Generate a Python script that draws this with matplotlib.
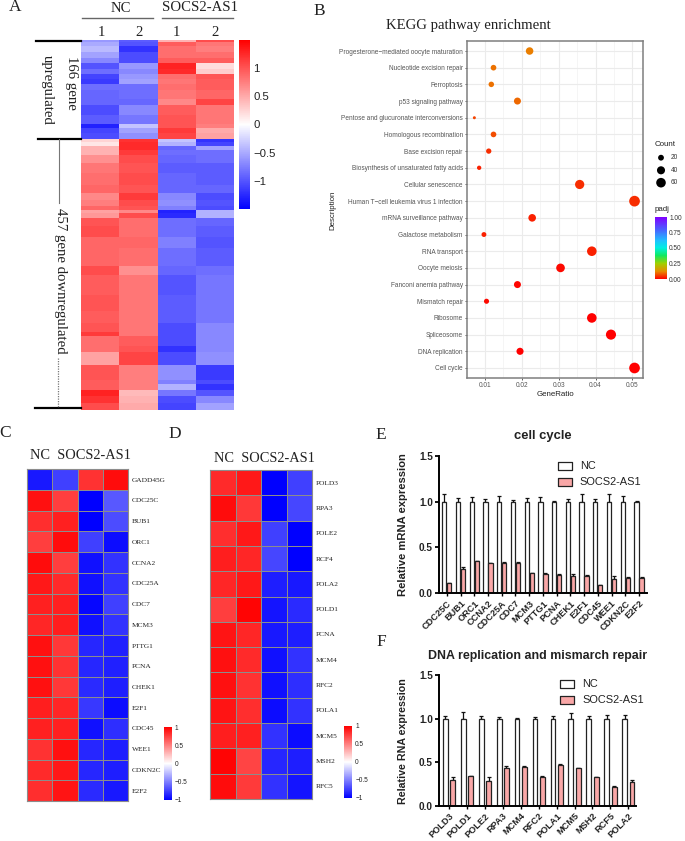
import numpy as np
import matplotlib
matplotlib.use("Agg")
import matplotlib.pyplot as plt
from matplotlib.colors import LinearSegmentedColormap, Normalize
from matplotlib.cm import ScalarMappable

W, H = 685, 841
SERIF = "Liberation Serif"
SANS = "Liberation Sans"

# panel A: heatmap bands, gene counts per band and colour value per sample
up_genes = [4, 6, 11, 9, 8, 10, 10, 8, 8, 11, 14, 11, 17, 15, 7, 8, 9]
up_values = [
    [-0.60, -0.95, 0.45, 1.05], [-0.50, -1.00, 0.95, 0.80], [-0.40, -1.20, 0.85, 0.75],
    [-0.55, -1.05, 0.85, 0.85], [-0.70, -1.05, 0.95, 0.95], [-1.00, -0.60, 1.30, 0.20],
    [-0.85, -0.70, 1.25, 0.30], [-1.10, -0.60, 0.85, 1.00], [-1.15, -0.55, 0.80, 0.95],
    [-0.85, -0.85, 0.85, 0.95], [-0.90, -0.85, 0.80, 0.90], [-0.90, -0.90, 0.70, 1.10],
    [-1.05, -0.70, 0.95, 0.80], [-0.95, -0.80, 1.00, 0.80], [-1.30, -0.35, 1.00, 0.75],
    [-1.10, -0.55, 1.15, 0.50], [-1.05, -0.65, 1.10, 0.55],
]
down_genes = [6, 7, 7, 8, 13, 17, 20, 14, 11, 11, 6, 6, 8, 14, 17, 19, 31, 14,
              34, 28, 20, 14, 8, 17, 10, 22, 24, 7, 10, 11, 11, 12]
down_values = [
    [0.25, 1.20, -0.35, -1.20], [0.15, 1.25, -0.45, -1.10], [0.45, 1.25, -0.90, -0.55],
    [0.45, 1.15, -0.85, -0.85], [0.65, 1.05, -0.90, -0.85], [0.80, 1.00, -0.95, -0.95],
    [0.85, 1.05, -0.90, -0.95], [0.90, 1.00, -0.90, -0.90], [0.70, 1.15, -0.70, -1.05],
    [0.75, 1.05, -0.65, -1.00], [0.90, 1.00, -0.75, -1.05], [0.55, 0.70, -1.30, -0.45],
    [0.60, 1.05, -1.25, -0.45], [1.00, 0.85, -0.85, -0.90], [1.05, 0.85, -0.85, -0.95],
    [0.90, 0.90, -0.75, -1.00], [0.90, 0.85, -0.85, -0.95], [1.05, 0.65, -0.90, -0.85],
    [0.95, 0.80, -1.00, -0.80], [1.00, 0.80, -0.95, -0.80], [0.95, 0.80, -0.95, -0.80],
    [1.00, 0.80, -1.05, -0.70], [1.15, 0.80, -1.05, -0.70], [0.85, 0.95, -1.05, -0.70],
    [0.85, 1.00, -1.20, -0.70], [0.55, 1.10, -1.05, -0.65], [1.00, 0.75, -0.65, -1.15],
    [0.95, 0.75, -0.75, -1.05], [0.95, 0.75, -0.45, -1.20], [1.30, 0.40, -0.80, -1.00],
    [1.20, 0.45, -1.05, -0.70], [1.05, 0.50, -1.10, -0.55],
]

# panel B: KEGG dots
terms = ["Progesterone\u2212mediated oocyte maturation", "Nucleotide excision repair", "Ferroptosis",
         "p53 signaling pathway", "Pentose and glucuronate interconversions", "Homologous recombination",
         "Base excision repair", "Biosynthesis of unsaturated fatty acids", "Cellular senescence",
         "Human T\u2212cell leukemia virus 1 infection", "mRNA surveillance pathway", "Galactose metabolism",
         "RNA transport", "Oocyte meiosis", "Fanconi anemia pathway", "Mismatch repair", "Ribosome",
         "Spliceosome", "DNA replication", "Cell cycle"]
gene_ratio = [0.0221, 0.0123, 0.0117, 0.0188, 0.0071, 0.0123, 0.0110, 0.0084, 0.0357, 0.0506,
              0.0228, 0.0097, 0.0390, 0.0305, 0.0188, 0.0104, 0.0390, 0.0442, 0.0195, 0.0506]
gene_count = [34, 19, 18, 29, 11, 19, 17, 13, 55, 78, 35, 15, 60, 47, 29, 16, 60, 68, 30, 78]
padj = [0.11, 0.10, 0.10, 0.09, 0.06, 0.07, 0.04, 0.03, 0.04, 0.04,
        0.03, 0.03, 0.03, 0.01, 0.005, 0.01, 0.002, 0.002, 0.002, 0.0]
count_legend = [20, 40, 60]

# panel C heatmap
c_genes = ["GADD45G", "CDC25C", "BUB1", "ORC1", "CCNA2", "CDC25A", "CDC7", "MCM3", "PTTG1", "PCNA",
           "CHEK1", "E2F1", "CDC45", "WEE1", "CDKN2C", "E2F2"]
c_values = [
    [-0.90, -0.75, 0.80, 0.95], [0.93, 0.75, -1.00, -0.65], [0.82, 0.87, -1.00, -0.70],
    [0.75, 0.95, -0.75, -0.95], [0.95, 0.75, -0.93, -0.80], [0.90, 0.83, -0.93, -0.80],
    [0.87, 0.87, -0.97, -0.75], [0.85, 0.88, -0.93, -0.80], [0.93, 0.78, -0.85, -0.87],
    [0.93, 0.80, -0.85, -0.87], [0.93, 0.78, -0.83, -0.88], [0.88, 0.85, -0.78, -0.95],
    [0.87, 0.87, -0.93, -0.82], [0.80, 0.93, -0.85, -0.88], [0.83, 0.90, -0.85, -0.88],
    [0.82, 0.92, -0.83, -0.90],
]

# panel D heatmap
d_genes = ["POLD3", "RPA3", "POLE2", "RCF4", "POLA2", "POLD1", "PCNA", "MCM4", "RFC2", "POLA1",
           "MCM5", "MSH2", "RFC5"]
d_values = [
    [0.83, 0.90, -1.00, -0.75], [0.95, 0.78, -1.00, -0.72], [0.82, 0.90, -0.75, -1.00],
    [0.88, 0.85, -0.72, -1.00], [0.85, 0.90, -0.88, -0.90], [0.75, 0.98, -0.92, -0.83],
    [0.92, 0.85, -0.90, -0.88], [0.93, 0.83, -0.93, -0.80], [0.93, 0.80, -0.93, -0.82],
    [0.92, 0.82, -0.95, -0.80], [0.88, 0.87, -0.80, -0.95], [0.98, 0.73, -0.85, -0.88],
    [0.95, 0.77, -0.80, -0.92],
]

# panel E bars
e_genes = ["CDC25C", "BUB1", "ORC1", "CCNA2", "CDC25A", "CDC7", "MCM3", "PTTG1", "PCNA", "CHEK1",
           "E2F1", "CDC45", "WEE1", "CDKN2C", "E2F2"]
e_nc = [1.0] * 15
e_nc_err = [0.08, 0.04, 0.05, 0.03, 0.06, 0.02, 0.04, 0.05, 0.005, 0.025, 0.085, 0.03, 0.08, 0.065, 0.005]
e_socs = [0.11, 0.27, 0.35, 0.325, 0.33, 0.325, 0.22, 0.215, 0.20, 0.19, 0.185, 0.09, 0.155, 0.17, 0.17]
e_socs_err = [0.005, 0.02, 0.005, 0.005, 0.015, 0.015, 0.005, 0.005, 0.01, 0.02, 0.015, 0.005, 0.03, 0.005, 0.008]

# panel F bars
f_genes = ["POLD3", "POLD1", "POLE2", "RPA3", "MCM4", "RFC2", "POLA1", "MCM5", "MSH2", "RCF5", "POLA2"]
f_nc = [1.0] * 11
f_nc_err = [0.035, 0.07, 0.03, 0.02, 0.003, 0.015, 0.03, 0.065, 0.03, 0.04, 0.04]
f_socs = [0.29, 0.34, 0.285, 0.43, 0.44, 0.33, 0.47, 0.43, 0.325, 0.22, 0.27]
f_socs_err = [0.045, 0.005, 0.04, 0.03, 0.01, 0.01, 0.005, 0.005, 0.003, 0.003, 0.02]

heat_cmap = LinearSegmentedColormap.from_list("heat", ["#0000ff", "#ffffff", "#ff0000"])
padj_cmap = LinearSegmentedColormap.from_list(
    "padj", [(0, "#ff0000"), (0.12, "#e88a00"), (0.25, "#a0d000"), (0.38, "#10e860"),
             (0.5, "#00f0e0"), (0.62, "#20c0ff"), (0.8, "#4a60ff"), (1, "#8000ff")])

fig = plt.figure(figsize=(W / 100, H / 100), dpi=100)


def px_axes(x0, y0, x1, y1, **kw):
    return fig.add_axes([x0 / W, 1 - y1 / H, (x1 - x0) / W, (y1 - y0) / H], **kw)


# overlay for free labels, in pixels
ov = fig.add_axes([0, 0, 1, 1], zorder=5)
ov.set_xlim(0, W)
ov.set_ylim(H, 0)
ov.axis("off")


def label(x, y, s, size=9, family=SERIF, ha="center", va="center", **kw):
    ov.text(x, y, s, fontsize=size, family=family, ha=ha, va=va, **kw)


def heat_colorbar(x0, y0, x1, y1, vlim, ticks, ticklabels, size, color="black"):
    cax = px_axes(x0, y0, x1, y1)
    sm = ScalarMappable(Normalize(-vlim, vlim), heat_cmap)
    cb = fig.colorbar(sm, cax=cax)
    cb.outline.set_visible(False)
    cb.set_ticks(ticks)
    cb.set_ticklabels(ticklabels)
    cax.tick_params(length=0, pad=2.5, labelsize=size, labelcolor=color)
    for t in cax.get_yticklabels():
        t.set_family(SANS)


for x, y, s in [(15.5, 7, "A"), (319, 11, "B"), (5, 433, "C"), (175, 434, "D"), (381, 435, "E"), (381, 642, "F")]:
    label(x, y, s, size=12.5, color="#222222")

# --- A
ax = px_axes(81, 40, 234, 410)
a_values = np.array(up_values + down_values)
a_edges = np.concatenate([[0], np.cumsum(up_genes + down_genes)])
ax.pcolormesh(np.arange(5), a_edges, a_values, cmap=heat_cmap, vmin=-1.5, vmax=1.5)
ax.set_ylim(a_edges[-1], 0)
ax.axis("off")
heat_colorbar(239, 40, 250, 209, 1.5, [-1, -0.5, 0, 0.5, 1], ["\u22121", "\u22120.5", "0", "0.5", "1"], 8.2, "#222222")

label(120.5, 8, "NC", size=10.6, color="#222222")
label(200, 7, "SOCS2-AS1", size=10.6, color="#222222")
ov.plot([82, 153], [18, 18], color="#666666", lw=1)
ov.plot([162, 233], [18, 18], color="#666666", lw=1)
for x, s in zip([101, 139, 176, 215], ["1", "2", "1", "2"]):
    label(x, 32, s, size=10.6, color="#222222")
ov.plot([36, 81], [40.5, 40.5], color="black", lw=1.6)
ov.plot([38, 81], [139, 139], color="black", lw=1.6)
ov.plot([35, 81], [408, 408], color="black", lw=1.6)
label(71.5, 83, "166 gene", size=10.6, rotation=-90, color="#222222")
label(47.5, 90, "upregulated", size=10.6, rotation=-90, color="#222222")
label(60, 281, "457 gene downregulated", size=10.6, rotation=-90, color="#222222")
ov.plot([59, 59], [139, 203], color="#777777", lw=0.8)
ov.plot([58, 58], [358, 408], color="#777777", lw=0.9, ls=(0, (1, 1)))

# --- B
ax = px_axes(467, 41, 643, 378)
dot_d = lambda c: 3 + 7.7 * np.sqrt((np.asarray(c, float) - 11) / 67)
ax.scatter(gene_ratio, terms, s=(dot_d(gene_count) * 0.72) ** 2, c=padj, cmap=padj_cmap, vmin=0, vmax=1,
           linewidths=0, zorder=3)
ax.set_ylim(19.6, -0.6)
ax.set_xlim(0.0051, 0.0529)
ax.set_xticks([0.01, 0.02, 0.03, 0.04, 0.05])
ax.set_xticks([0.015, 0.025, 0.035, 0.045], minor=True)
ax.grid(True, which="major", color="#ebebeb", lw=0.8, zorder=0)
ax.grid(True, which="minor", axis="x", color="#f2f2f2", lw=0.5, zorder=0)
ax.set_axisbelow(True)
for s in ax.spines.values():
    s.set_color("#7f7f7f")
    s.set_linewidth(1.1)
ax.tick_params(which="minor", length=0)
ax.tick_params(which="major", length=1.5, width=0.6, color="#444444", labelsize=4.7, labelcolor="#555555", pad=1.5)
for t in ax.get_xticklabels() + ax.get_yticklabels():
    t.set_family(SANS)
label(555, 394, "GeneRatio", size=5.7, family=SANS, color="#222222")
label(333, 210, "Description", size=5.7, family=SANS, rotation=90, color="#222222")
label(468, 25, "KEGG pathway enrichment", size=10.6, color="#222222")

label(655, 144, "Count", size=5.7, family=SANS, ha="left", color="#222222")
ov.scatter([661] * 3, [157.7, 170.3, 182.7], s=(dot_d(count_legend) * 0.72) ** 2, c="black", linewidths=0)
for y, c in zip([157.7, 170.3, 182.7], count_legend):
    label(671, y, str(c), size=4.7, family=SANS, ha="left", color="#333333")
label(655, 209, "padj", size=5.7, family=SANS, ha="left", color="#222222")
cax = px_axes(655, 217, 667, 279)
cb = fig.colorbar(ScalarMappable(Normalize(0, 1), padj_cmap), cax=cax)
cb.outline.set_visible(False)
cb.set_ticks([0, 0.25, 0.5, 0.75, 1])
cb.set_ticklabels(["0.00", "0.25", "0.50", "0.75", "1.00"])
cax.tick_params(length=0, pad=1.5, labelsize=4.7, labelcolor="#333333")
for t in cax.get_yticklabels():
    t.set_family(SANS)


# --- C and D
def small_heat(box, values, genes, title_xy, bar_box):
    ax = px_axes(*box)
    ax.pcolormesh(np.array(values), cmap=heat_cmap, vmin=-1, vmax=1, edgecolors="#8c8c8c", linewidth=0.7)
    ax.set_ylim(len(genes), 0)
    ax.set_xticks([])
    ax.set_yticks(np.arange(len(genes)) + 0.5, genes)
    ax.yaxis.tick_right()
    ax.tick_params(length=0, pad=2.5, labelsize=5.3, labelcolor="#222222")
    for t in ax.get_yticklabels():
        t.set_family(SERIF)
    for s in ax.spines.values():
        s.set_color("#8c8c8c")
        s.set_linewidth(0.8)
    label(title_xy[0], title_xy[1], "NC  SOCS2-AS1", size=10.4, ha="left", color="#222222")
    heat_colorbar(*bar_box, 1, [-1, -0.5, 0, 0.5, 1], ["\u22121", "\u22120.5", "0", "0.5", "1"], 4.7, "#222222")


small_heat((27, 469.3, 128.3, 801), c_values, c_genes, (30, 455), (164, 727, 171.5, 800))
small_heat((210, 470, 312.3, 799), d_values, d_genes, (214, 458), (344, 726, 351.7, 798))


# --- E and F
def bar_panel(box, xlim, genes, nc, nc_err, socs, socs_err, offset, width, ylabel, ylabel_size, title, title_size,
              title_x, title_y, legend_x, legend_y):
    ax = px_axes(*box)
    x = np.arange(len(genes))
    for pos, vals, errs, face in [(x - offset, nc, nc_err, "white"), (x + offset, socs, socs_err, "#f9a7a7")]:
        ax.errorbar(pos, vals, yerr=[np.zeros(len(vals)), errs], fmt="none", ecolor="#111111", elinewidth=0.9,
                    capsize=1.4, capthick=0.9, zorder=1)
        ax.bar(pos, vals, width, color=face, edgecolor="#222222", linewidth=0.9, zorder=2)
    ax.set_xlim(*xlim)
    ax.set_ylim(0, 1.5)
    ax.set_yticks([0, 0.5, 1.0, 1.5], ["0.0", "0.5", "1.0", "1.5"])
    ax.set_xticks(x, genes, rotation=45, ha="right", rotation_mode="anchor")
    ax.spines[["top", "right"]].set_visible(False)
    ax.spines[["left", "bottom"]].set_linewidth(1.4)
    ax.patch.set_alpha(0)
    ax.tick_params(axis="y", length=3, width=1.3, labelsize=7.2, pad=1.5)
    ax.tick_params(axis="x", length=2.5, width=1, labelsize=6.6, pad=1.5)
    for t in ax.get_xticklabels() + ax.get_yticklabels():
        t.set_family(SANS)
        t.set_weight("bold")
        t.set_color("#222222")
    label(403, (box[1] + box[3]) / 2 + 0.5, ylabel, size=ylabel_size, family=SANS, weight="bold", rotation=90,
          color="#222222")
    label(title_x, title_y, title, size=title_size, family=SANS, weight="bold", color="#222222")
    for y, face, name in zip(legend_y, ["white", "#f9a7a7"], ["NC", "SOCS2-AS1"]):
        ov.fill_between([legend_x, legend_x + 14.5], y - 4, y + 4, facecolor=face, edgecolor="#222222", linewidth=0.9)
        label(legend_x + 22, y, name, size=7.9, family=SANS, ha="left", color="#222222")


bar_panel((439.3, 455.7, 646.7, 593.3), (-0.546, 14.56), e_genes, e_nc, e_nc_err, e_socs, e_socs_err,
          0.182, 0.31, "Relative mRNA expression", 8.1, "cell cycle", 9.4, 543, 435.7, 557.7, [466, 482])
bar_panel((439.3, 675, 635.7, 805.7), (-0.54, 10.41), f_genes, f_nc, f_nc_err, f_socs, f_socs_err,
          0.205, 0.27, "Relative RNA expression", 7.7, "DNA replication and mismarch repair", 8.9, 538, 655.7, 560,
          [684.3, 700])

fig.savefig("out.png", dpi=100)
